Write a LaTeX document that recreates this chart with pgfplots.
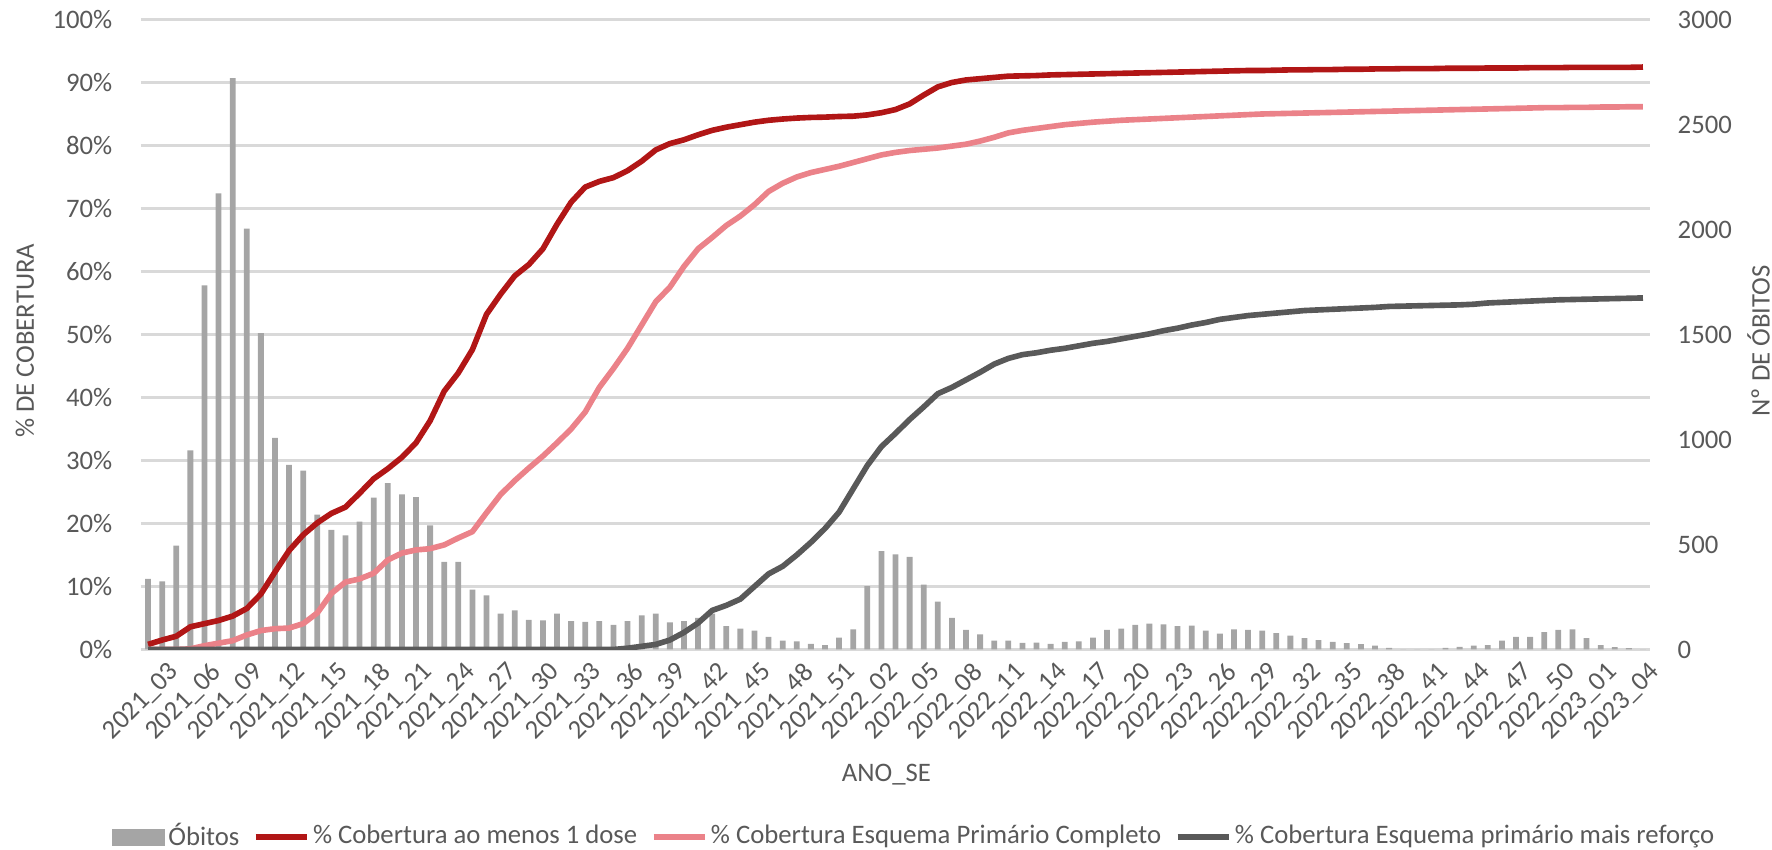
\documentclass[border=0pt]{standalone}
\usepackage{pgfplots}
\usepackage{pgfplotstable}
\usepackage{fontspec}
\pgfplotsset{compat=1.18}
\setmainfont{Carlito}

\definecolor{cBar}{HTML}{A5A5A5}
\definecolor{cRed}{HTML}{B11616}
\definecolor{cPink}{HTML}{EB8289}
\definecolor{cDark}{HTML}{595959}
\definecolor{cGrid}{HTML}{D9D9D9}
\definecolor{cText}{HTML}{595959}

% i = semana (0 = 2021_03 ... 106 = 2023_05); ob = obitos; d1, comp, ref = % cobertura
\pgfplotstableread{
i ob d1 comp ref
0 336 0.8 0 0
1 324 1.5 0 0
2 495 2.1 0 0
3 948 3.6 0.1 0
4 1734 4.1 0.6 0
5 2172 4.6 1.0 0
6 2721 5.3 1.4 0
7 2004 6.5 2.3 0
8 1506 8.8 3.0 0
9 1008 12.3 3.3 0
10 879 15.7 3.4 0
11 852 18.2 4.1 0
12 642 20.1 5.8 0
13 570 21.6 8.9 0
14 543 22.6 10.7 0
15 609 24.8 11.2 0
16 723 27.1 12.1 0
17 792 28.7 14.2 0
18 738 30.5 15.3 0
19 726 32.8 15.8 0
20 591 36.3 16.0 0
21 417 41.0 16.6 0
22 417 43.9 17.7 0
23 285 47.6 18.7 0
24 258 53.2 21.7 0
25 171 56.4 24.6 0
26 186 59.3 26.8 0
27 141 61.1 28.8 0
28 138 63.6 30.7 0
29 171 67.5 32.8 0
30 135 71.0 35.0 0
31 132 73.4 37.7 0
32 135 74.3 41.6 0
33 117 74.9 44.6 0
34 135 76.0 47.8 0.2
35 162 77.5 51.5 0.5
36 171 79.3 55.2 0.8
37 129 80.3 57.5 1.5
38 135 80.9 60.8 2.7
39 150 81.7 63.6 4.2
40 171 82.4 65.4 6.2
41 111 82.9 67.3 7.0
42 99 83.3 68.8 8.0
43 90 83.7 70.6 10.0
44 60 84.0 72.7 12.0
45 42 84.2 74.0 13.2
46 39 84.35 75.0 15.0
47 27 84.45 75.7 17.0
48 21 84.5 76.2 19.2
49 56 84.6 76.7 21.8
50 96 84.65 77.3 25.5
51 302 84.85 77.9 29.2
52 468 85.2 78.5 32.2
53 453 85.7 78.9 34.3
54 441 86.6 79.2 36.5
55 309 88.0 79.4 38.5
56 228 89.3 79.6 40.6
57 150 90.0 79.9 41.6
58 93 90.4 80.2 42.8
59 72 90.6 80.7 44.0
60 42 90.8 81.3 45.3
61 42 91.0 82.0 46.2
62 32 91.05 82.4 46.8
63 33 91.1 82.7 47.1
64 27 91.2 83.0 47.5
65 36 91.25 83.3 47.8
66 39 91.3 83.5 48.2
67 56 91.35 83.7 48.6
68 93 91.4 83.85 48.9
69 99 91.45 84.0 49.3
70 117 91.5 84.1 49.7
71 123 91.55 84.2 50.1
72 120 91.6 84.3 50.6
73 111 91.65 84.4 51.0
74 113 91.7 84.5 51.5
75 90 91.75 84.6 51.9
76 75 91.8 84.7 52.4
77 96 91.85 84.8 52.7
78 93 91.9 84.9 53.0
79 90 91.9 85.0 53.2
80 78 91.95 85.05 53.4
81 66 92.0 85.1 53.6
82 54 92.0 85.15 53.8
83 45 92.05 85.2 53.9
84 36 92.05 85.25 54.0
85 30 92.1 85.3 54.1
86 26 92.1 85.35 54.2
87 18 92.15 85.4 54.3
88 8 92.15 85.45 54.45
89 0 92.2 85.5 54.5
90 0 92.2 85.55 54.55
91 0 92.2 85.6 54.6
92 8 92.25 85.65 54.65
93 12 92.25 85.7 54.7
94 18 92.25 85.75 54.8
95 21 92.3 85.8 55.0
96 42 92.3 85.85 55.1
97 60 92.3 85.9 55.2
98 60 92.35 85.95 55.3
99 83 92.35 86.0 55.4
100 93 92.35 86.0 55.5
101 96 92.4 86.05 55.55
102 54 92.4 86.05 55.6
103 21 92.4 86.1 55.65
104 11 92.4 86.1 55.7
105 6 92.4 86.15 55.75
106 0 92.45 86.15 55.8
}\data

\pgfplotsset{
  base/.style={
    at={(1.41cm,2.005cm)}, anchor=south west,
    scale only axis, width=15.09cm, height=6.30cm,
    xmin=-0.5, xmax=106.5,
    axis line style={draw=none},
    major tick length=0pt,
    tick label style={font=\fontsize{7.6}{8.5}\selectfont, text=cText},
    label style={font=\fontsize{7.6}{8.5}\selectfont, text=cText},
  },
  lineleg/.style={legend image code/.code={\draw[##1] (0cm,0cm) -- (0.51cm,0cm);}},
}

\begin{document}
\begin{tikzpicture}
\useasboundingbox (0,0) rectangle (17.72cm,8.5cm);

% grade, eixo esquerdo e rotulos das semanas
\begin{axis}[base,
  ymin=0, ymax=100,
  ytick={0,10,...,100},
  yticklabels={0\%,10\%,20\%,30\%,40\%,50\%,60\%,70\%,80\%,90\%,100\%},
  yticklabel style={anchor=east, inner sep=0pt, xshift=-0.28cm},
  ymajorgrids, grid style={cGrid, line width=0.6pt},
  xtick={0,3,...,105},
  xticklabels={2021\_03,2021\_06,2021\_09,2021\_12,2021\_15,2021\_18,2021\_21,2021\_24,2021\_27,2021\_30,2021\_33,2021\_36,2021\_39,2021\_42,2021\_45,2021\_48,2021\_51,2022\_02,2022\_05,2022\_08,2022\_11,2022\_14,2022\_17,2022\_20,2022\_23,2022\_26,2022\_29,2022\_32,2022\_35,2022\_38,2022\_41,2022\_44,2022\_47,2022\_50,2023\_01,2023\_04},
  xticklabel style={rotate=45, anchor=north east, inner sep=0pt, xshift=0.06cm, yshift=-0.21cm},
  xlabel={ANO\_SE},
  xlabel style={at={(axis description cs:0.494,-0.199)}, anchor=center},
  ylabel={\% DE COBERTURA},
  ylabel style={at={(axis description cs:-0.077,0.49)}, anchor=center},
]
\addplot[draw=none, forget plot] coordinates {(0,0)};
\end{axis}

% obitos no eixo direito
\begin{axis}[base,
  ymin=0, ymax=3000,
  ytick={0,500,...,3000},
  yticklabels={0,500,1000,1500,2000,2500,3000},
  yticklabel pos=right,
  yticklabel style={anchor=west, inner sep=0pt, xshift=0.27cm},
  xtick=\empty,
  ylabel={Nº DE ÓBITOS},
  ylabel style={at={(axis description cs:1.072,0.49)}, anchor=center, rotate=0},
  ybar, bar width=0.058cm,
]
\addplot[fill=cBar, draw=none] table[x=i, y=ob] {\data};
\end{axis}

% coberturas
\begin{axis}[base,
  ymin=0, ymax=100,
  xtick=\empty, ytick=\empty,
  legend columns=-1,
  legend style={at={(axis description cs:0.513,-0.298)}, anchor=center,
    draw=none, fill=none, font=\fontsize{7.6}{8.5}\selectfont, text=cText,
    /tikz/every even column/.append style={column sep=0.1cm},
    nodes={inner sep=0.035cm}},
]
\addlegendimage{legend image code/.code={\fill[cBar] (0cm,-0.08cm) rectangle (0.51cm,0.08cm);}}
\addlegendentry{Óbitos}
\addplot[cRed, line width=1.6pt, line join=round, lineleg] table[x=i, y=d1] {\data};
\addlegendentry{\% Cobertura ao menos 1 dose}
\addplot[cPink, line width=1.6pt, line join=round, lineleg] table[x=i, y=comp] {\data};
\addlegendentry{\% Cobertura Esquema Primário Completo}
\addplot[cDark, line width=1.6pt, line join=round, lineleg] table[x=i, y=ref] {\data};
\addlegendentry{\% Cobertura Esquema primário mais reforço}
\end{axis}
\end{tikzpicture}
\end{document}
